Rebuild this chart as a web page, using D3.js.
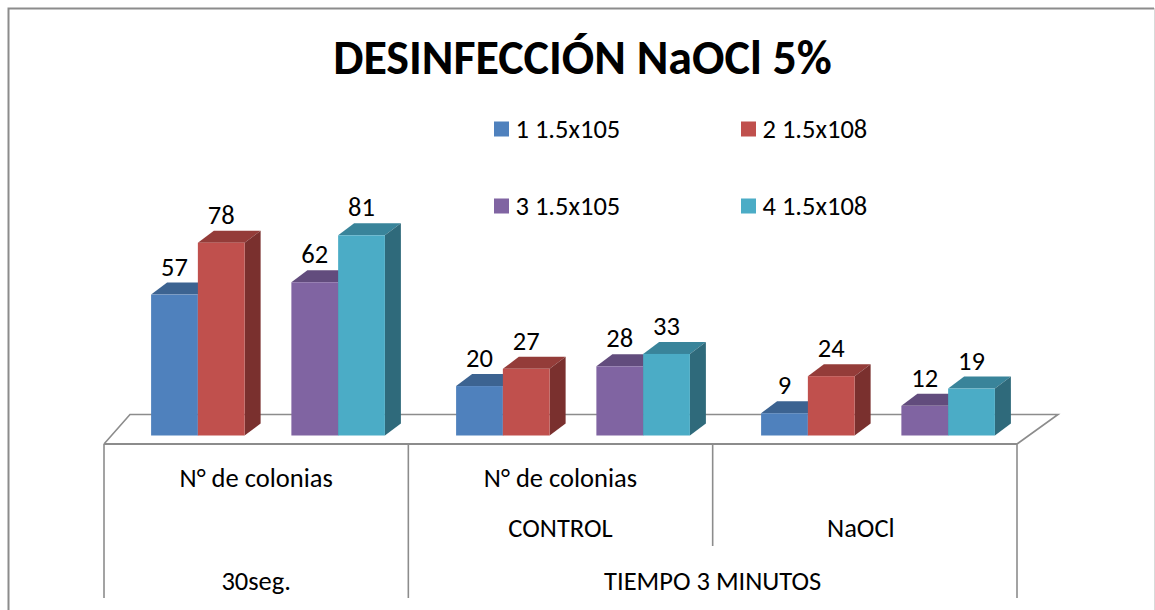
<!DOCTYPE html>
<html><head><meta charset="utf-8">
<script src="https://cdn.jsdelivr.net/npm/d3@7/dist/d3.min.js"></script>
<style>html,body{margin:0;padding:0;background:#fff}svg{display:block}text{font-family:Carlito,Lato,"Open Sans",sans-serif;fill:#000}</style>
</head><body><div id="c"></div>
<script>
const title = "DESINFECCIÓN NaOCl 5%";
const groups = ["A","B","C"];
const seriesNames = ["1 1.5x105","2 1.5x108","3 1.5x105","4 1.5x108"];
const seriesColors = ["#4f81bd","#c0504d","#8064a2","#4bacc6"];
const topColors = ["#3c6391","#943c39","#624c7d","#39849a"];
const sideColors = ["#2f4e73","#7a302e","#4e3c63","#2f6a7b"];
const v1 = [57,20,9];
const v2 = [78,27,24];
const v3 = [62,28,12];
const v4 = [81,33,19];
const values = [v1,v2,v3,v4];
const row1 = ["N° de colonias","N° de colonias",""];
const row2 = ["","CONTROL","NaOCl"];
const row3 = [{label:"30seg.",from:0,to:0},{label:"TIEMPO 3 MINUTOS",from:1,to:2}];

const W=1155,H=610;
const svg=d3.select("#c").append("svg").attr("width",W).attr("height",H);
const gray="#8c8c8c";

const x0=d3.scaleBand().domain(groups).range([104,1017]);
const xBars=d3.scaleBand().domain(groups).range([104.3,1019.3]);
const slots=["s0","s1","gap","s2","s3"];
const x1=d3.scaleBand().domain(slots).range([46.8,280.6]);
const slotOf=i=>["s0","s1","s2","s3"][i];
const y=d3.scaleLinear().domain([0,81]).range([435.5,235.3]);
const dx=16,dy=12;

svg.append("path").attr("d",`M8.5,${H}V8.5H1154`).attr("fill","none").attr("stroke",gray).attr("stroke-width",2);
svg.append("line").attr("x1",1154.5).attr("x2",1154.5).attr("y1",8).attr("y2",H).attr("stroke","#d9d9d9").attr("stroke-width",1);

svg.append("path").attr("d","M104,444L130,414.5H1058L1017,444").attr("fill","none").attr("stroke",gray).attr("stroke-width",1.6);
svg.append("line").attr("x1",104).attr("x2",1017).attr("y1",444).attr("y2",444).attr("stroke",gray).attr("stroke-width",2);

const bot=598;
[[104,bot],[x0("B"),bot],[x0("C"),546],[1017,bot]].forEach(([x,b])=>{
  svg.append("line").attr("x1",x).attr("x2",x).attr("y1",444).attr("y2",b).attr("stroke",gray).attr("stroke-width",1.6);
});

groups.forEach((g,gi)=>{
  values.forEach((vals,si)=>{
    const x=xBars(g)+x1(slotOf(si)),w=x1.bandwidth(),t=y(vals[gi]),b=y(0);
    const n=svg.append("g");
    n.append("path").attr("d",`M${x},${t}l${dx},${-dy}h${w}l${-dx},${dy}z`).attr("fill",topColors[si]);
    n.append("path").attr("d",`M${x+w},${t}l${dx},${-dy}V${b-dy}l${-dx},${dy}z`).attr("fill",sideColors[si]);
    n.append("rect").attr("x",x).attr("y",t).attr("width",w).attr("height",b-t).attr("fill",seriesColors[si]);
  });
});
groups.forEach((g,gi)=>{
  values.forEach((vals,si)=>{
    const x=xBars(g)+x1(slotOf(si))+x1.bandwidth()/2;
    svg.append("text").attr("x",x).attr("y",y(vals[gi])-19).attr("text-anchor","middle").attr("font-size",26.5).text(vals[gi]);
  });
});

svg.append("text").attr("x",582.5).attr("y",74).attr("text-anchor","middle").attr("font-size",48).attr("font-weight",700).text(title);

const lx=[494,741],ly=[129,206];
seriesNames.forEach((s,i)=>{
  const X=lx[i%2],Y=ly[i>>1];
  svg.append("rect").attr("x",X).attr("y",Y-7.5).attr("width",15).attr("height",15).attr("fill",seriesColors[i]);
  svg.append("text").attr("x",X+21.5).attr("y",Y+8.5).attr("font-size",26.5).text(s);
});

const cx=g=>x0(g)+x0.bandwidth()/2;
groups.forEach((g,i)=>{
  svg.append("text").attr("x",cx(g)).attr("y",486.5).attr("text-anchor","middle").attr("font-size",26.5).text(row1[i]);
  svg.append("text").attr("x",cx(g)-(i==2?4:0)).attr("y",537).attr("text-anchor","middle").attr("font-size",26.5).text(row2[i]);
});
row3.forEach(r=>{
  const a=x0(groups[r.from]),b=x0(groups[r.to])+x0.bandwidth();
  svg.append("text").attr("x",(a+b)/2).attr("y",590).attr("text-anchor","middle").attr("font-size",26.5).text(r.label);
});
</script></body></html>
